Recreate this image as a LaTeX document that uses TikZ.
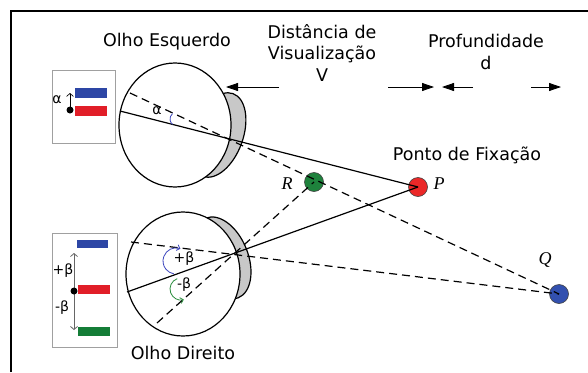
\documentclass[tikz,border=0pt]{standalone}
\usepackage{fontspec}
\setmainfont{DejaVu Sans}
\newfontfamily\letterfont{Liberation Serif}
\usetikzlibrary{arrows.meta,calc}

\definecolor{barblue}{RGB}{45,70,165}
\definecolor{barred}{RGB}{225,30,40}
\definecolor{bargreen}{RGB}{20,125,55}
\definecolor{corneagray}{RGB}{200,200,200}
\definecolor{boxgray}{RGB}{160,160,160}
\definecolor{ptred}{RGB}{235,40,40}
\definecolor{ptgreen}{RGB}{30,130,60}
\definecolor{ptblue}{RGB}{50,80,175}
\definecolor{arcblue}{RGB}{60,70,190}
\definecolor{arcgreen}{RGB}{40,140,60}

\tikzset{barb/.tip={Straight Barb[length=3pt,width=7pt]}}

\begin{document}
\begin{tikzpicture}[x=1pt,y=-1pt,
  title/.style={font=\fontsize{17.5}{21.5}\selectfont, align=center, inner sep=0},
  small/.style={font=\fontsize{14}{15}\selectfont, inner sep=0},
  ptlabel/.style={font=\letterfont\itshape\fontsize{18}{18}\selectfont, inner sep=0},
  sight/.style={line width=1.2pt},
  sightdash/.style={line width=1.2pt, dash pattern=on 8pt off 5pt},
  dist/.style={line width=0.8pt, -{Triangle[length=12pt,width=8pt]}},
  eyeball/.style={draw, line width=1.2pt, fill=white},
  cornea/.style={draw, line width=1.2pt, fill=corneagray},
  panel/.style={draw=boxgray, line width=0.8pt, fill=white},
  point/.style={circle, draw=black!75, line width=0.6pt, minimum size=19pt, inner sep=0},
  dot/.style={circle, fill=black, minimum size=7pt, inner sep=0},
]

\useasboundingbox (0,0) rectangle (588,372);
% open frame
\draw[line width=1.3pt] (11,372) -- (11,11) -- (588,11);

% titles
\node[title] (tLeft) at (167,42) {Olho Esquerdo};
\node[title] (tDist) at (322,53) {Distância de\\Visualização\\V};
\node[title] (tDepth) at (486,52) {Profundidade\\d};
\node[title] (tFix) at (467,155) {Ponto de Fixação};
\node[title] (tRight) at (183,353) {Olho Direito};

% distance arrows
\coordinate (v1) at (279,87); \coordinate (v0) at (226,87);
\coordinate (v2) at (388,87); \coordinate (v3) at (434,87);
\coordinate (d1) at (473,87); \coordinate (d0) at (442,87);
\coordinate (d2) at (531,87); \coordinate (d3) at (561,87);
\draw[dist] (v1) -- (v0);
\draw[dist] (v2) -- (v3);
\draw[dist] (d1) -- (d0);
\draw[dist] (d2) -- (d3);

% left eye
\draw[cornea, rotate around={-20:(218,135)}] (218,135) ellipse[x radius=25, y radius=44];
\draw[eyeball] (175,125) ellipse[x radius=56, y radius=62];
% right eye
\draw[cornea, rotate around={22:(222,258)}] (222,258) ellipse[x radius=26, y radius=43];
\draw[eyeball] (183,274) ellipse[x radius=57, y radius=62];

% target points
\node[point, fill=ptred] (P) at (418,187) {};
\node[point, fill=ptgreen] (R) at (314,182) {};
\node[point, fill=ptblue] (Q) at (559,294) {};
\node[ptlabel] (lP) at (439,184) {P};
\node[ptlabel] (lR) at (287,184) {R};
\node[ptlabel] (lQ) at (545,260) {Q};

% lines of sight
\coordinate (A1) at (120,111);
\coordinate (B1) at (130,93);
\coordinate (A2) at (127,292);
\coordinate (B2) at (131,242);
\coordinate (C2) at (157,323);
\draw[sight] (A1) -- (P.center);
\draw[sightdash] (B1) -- (Q.center);
\draw[sight] (A2) -- (P.center);
\draw[sightdash] (B2) -- (Q.center);
\draw[sightdash] (C2) -- (R.center);

% angles inside the eyes
\draw[arcblue, line width=0.8pt] (177,119) ++(230:7) arc[start angle=230, end angle=130, radius=7];
\node[small] (alphaEye) at (157,111) {α};
\draw[arcblue, line width=0.8pt, {Straight Barb[length=3pt,width=6pt]}-] (176,261) ++(290:13) arc[start angle=290, end angle=100, radius=13];
\draw[arcgreen, line width=0.8pt, -{Straight Barb[length=3pt,width=6pt]}] (181,289) ++(250:11) arc[start angle=250, end angle=75, radius=11];
\node[small] (betaUp) at (184,259) {+β};
\node[small] (betaDown) at (184,285) {-β};

% upper panel
\draw[panel] (52,70) rectangle (115,143);
\fill[barblue] (75,88) rectangle (107,98);
\fill[barred] (75,106) rectangle (107,116);
\node[dot] (a0) at (70,110) {};
\coordinate (a1) at (70,93);
\draw[line width=0.7pt, -{barb}] (a0.center) -- (a1);
\node[small] (alphaPanel) at (57,100) {α};

% lower panel
\draw[panel] (52,233) rectangle (117,347);
\fill[barblue] (77,240) rectangle (108,248);
\fill[barred] (78,285) rectangle (110,294);
\fill[bargreen] (78,327) rectangle (110,336);
\coordinate (b1) at (74,253);
\coordinate (b2) at (74,330);
\draw[black!60, line width=0.8pt, {barb}-{barb}] (b1) -- (b2);
\node[dot] (b0) at (74,291) {};
\node[small] (betaPlus) at (63,271) {+β};
\node[small] (betaMinus) at (62,308) {-β};
\end{tikzpicture}
\end{document}
